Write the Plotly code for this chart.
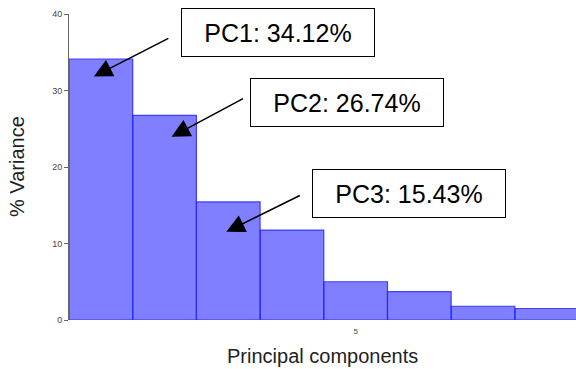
import plotly.graph_objects as go

components = [1, 2, 3, 4, 5, 6, 7, 8]
variance = [34.12, 26.74, 15.43, 11.75, 5.0, 3.7, 1.8, 1.5]
x_tick_vals = [5]
x_tick_text = ["5"]
y_tick_vals = [0, 10, 20, 30, 40]
labels = ["PC1: 34.12%", "PC2: 26.74%", "PC3: 15.43%"]

FONT = "Liberation Sans, Arial, sans-serif"

fig = go.Figure()
fig.add_trace(go.Bar(
    x=components, y=variance, width=1.0,
    marker=dict(color="rgba(0,0,255,0.5)",
                line=dict(color="rgba(40,40,255,0.85)", width=1.2)),
))

# arrow tips relative to bars (component index, offset below bar top)
tip_x = [0.89, 2.11, 2.97]
tip_drop = [2.3, 2.8, 3.9]
tail_offsets = [(76, -39), (73, -39), (75, -37)]
box_pos = [(3.78, 37.6), (4.86, 28.4), (5.84, 16.5)]

annotations = []
for i in range(3):
    annotations.append(dict(
        x=tip_x[i], y=variance[i] - tip_drop[i], xref="x", yref="y",
        text="", showarrow=True, ax=tail_offsets[i][0], ay=tail_offsets[i][1],
        arrowhead=2, arrowsize=2.3, arrowwidth=1.6, arrowcolor="black",
        standoff=0, startstandoff=0,
    ))
    annotations.append(dict(
        x=box_pos[i][0], y=box_pos[i][1], xref="x", yref="y",
        text=labels[i], showarrow=False,
        font=dict(family=FONT, size=25, color="black"),
        bgcolor="white", bordercolor="black", borderwidth=1,
        width=186, height=41, borderpad=3,
        xanchor="center", yanchor="middle",
    ))

annotations.append(dict(
    x=0.5, y=-0.075, xref="paper", yref="paper", text="Principal components",
    showarrow=False, font=dict(family=FONT, size=20, color="#222"),
    xanchor="center", yanchor="top"))
annotations.append(dict(
    x=-0.1025, y=0.5, xref="paper", yref="paper", text="% Variance",
    showarrow=False, textangle=-90, font=dict(family=FONT, size=20, color="#222"),
    xanchor="center", yanchor="middle"))

fig.update_layout(
    width=576, height=369,
    margin=dict(l=69, r=0, t=14, b=49),
    paper_bgcolor="white", plot_bgcolor="white",
    showlegend=False,
    annotations=annotations,
    xaxis=dict(range=[0.5, 8.46], tickvals=x_tick_vals, ticktext=x_tick_text,
               ticks="", showgrid=False, zeroline=False, showline=False,
               ticklabelstandoff=5,
               tickfont=dict(family=FONT, size=8, color="#444")),
    yaxis=dict(range=[0, 40], tickvals=y_tick_vals, ticks="outside", ticklen=4,
               tickcolor="#666", tickwidth=1, showline=True, linecolor="#666",
               linewidth=1, showgrid=False, zeroline=False,
               tickfont=dict(family=FONT, size=9, color="#444")),
)

# remove the browser's default 8px body margin so the figure fills the window
fig.write_html("out.html", config={"displayModeBar": False},
               post_script="document.body.style.margin='0';")
